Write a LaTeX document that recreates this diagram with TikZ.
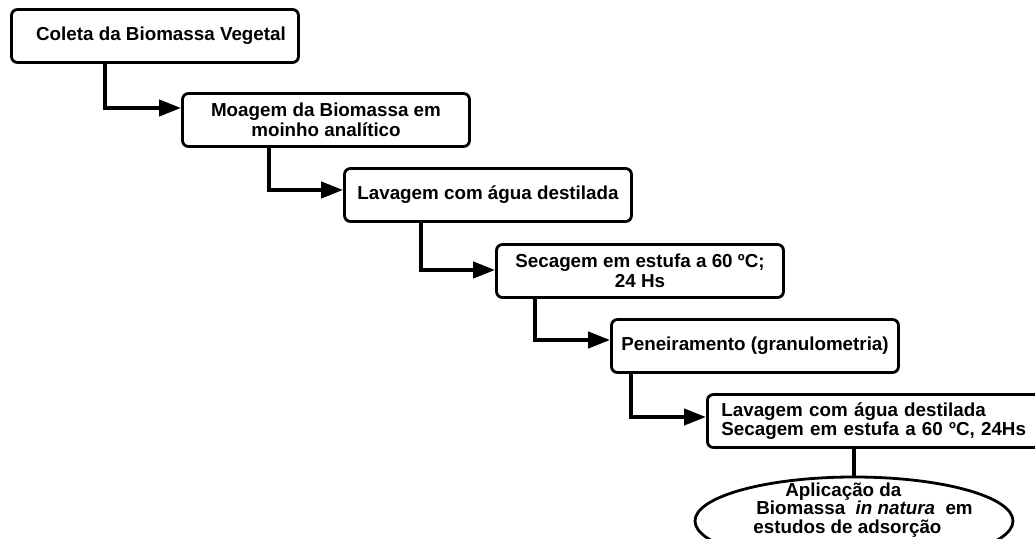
\documentclass[tikz,border=0pt]{standalone}
\usepackage{fontspec}
\setmainfont{Liberation Sans}
\usepackage{tikz}
\usetikzlibrary{arrows.meta}
\usetikzlibrary{shapes.geometric}

\begin{document}
\begin{tikzpicture}[x=0.5pt,y=-0.5pt,
	box/.style={draw,line width=1.4pt,rounded corners=3pt,minimum width=143.5pt,minimum height=26.5pt,align=center,inner sep=2pt,font=\fontsize{9.4}{9.8}\selectfont\bfseries},
	conn/.style={line width=2pt,-{Triangle[length=11pt,width=8pt]}}]
	\useasboundingbox (0,0) rectangle (1035,539);
	\clip (0,0) rectangle (1035,539);
	\node[box] (b1) at (155,36) {\raisebox{2pt}{\hspace{6pt}Coleta da Biomassa Vegetal}};
	\node[box] (b2) at (326,120) {Moagem da Biomassa em\\moinho analítico};
	\node[box] (b3) at (488,195) {Lavagem com água destilada};
	\node[box] (b4) at (640,271) {Secagem em estufa a 60 ºC;\\24 Hs};
	\node[box] (b5) at (755,346) {Peneiramento (granulometria)};
	\node[box,anchor=west,text width=155.5pt,align=left,inner xsep=7pt] (b6) at (706,421) {Lavagem com água destilada\\Secagem em estufa a 60 ºC, 24Hs};
	\node[draw,ellipse,line width=1.4pt,minimum width=159pt,minimum height=44pt,inner sep=0pt] (apl) at (854,521) {};
	\node[anchor=west,align=left,inner sep=0pt,font=\fontsize{9.4}{9.4}\selectfont\bfseries] (apltxt) at (753,510) {\hspace{16pt}Aplicação da\\\hspace{1.5pt}Biomassa \ \textit{in natura} \ em\\estudos de adsorção};
	\draw[conn] ([xshift=47.5pt]b1.south west) |- ([yshift=6pt]b2.west);
	\draw[conn] ([xshift=44pt]b2.south west) |- ([yshift=2.5pt]b3.west);
	\draw[conn] ([xshift=39pt]b3.south west) |- ([yshift=0.5pt]b4.west);
	\draw[conn] ([xshift=20pt]b4.south west) |- ([yshift=3pt]b5.west);
	\draw[conn] ([xshift=10.5pt]b5.south west) |- ([yshift=2pt]b6.west);
	\draw[line width=2pt] (b6.south -| apl.north) -- (apl.north);
\end{tikzpicture}
\end{document}
